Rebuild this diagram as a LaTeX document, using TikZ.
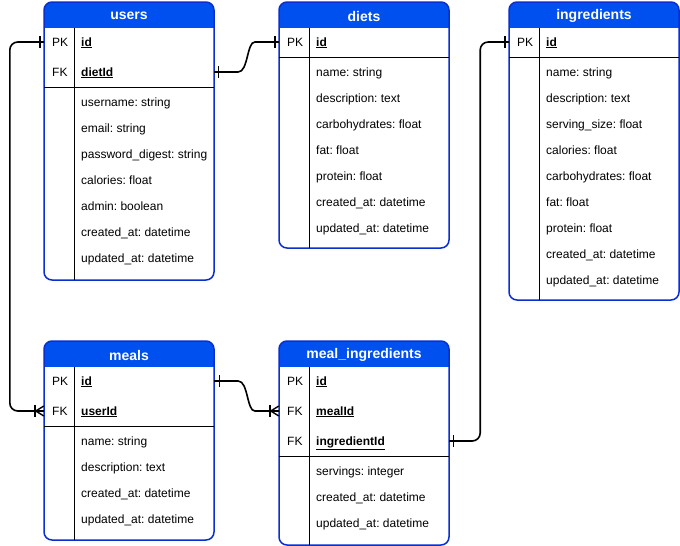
\documentclass[tikz,border=0pt]{standalone}
\usepackage{fontspec}
\setmainfont{Liberation Sans}
\usetikzlibrary{calc}
\definecolor{headblue}{HTML}{0050EF}
\definecolor{frameblue}{HTML}{0A2ED0}
\frenchspacing

\tikzset{
  tbl/.style={draw=frameblue,line width=1.5pt,rounded corners=8pt},
  title/.style={text=white,inner sep=0pt,font=\bfseries\fontsize{14}{16}\selectfont},
  cell/.style={anchor=west,inner sep=0pt,font=\fontsize{12}{14}\selectfont,text height=10pt,text depth=2pt},
  keyrow/.style={minimum width=170pt,minimum height=30pt,inner sep=0pt},
  rel/.style={line width=1.6pt},
  relend/.style={line width=1.4pt}
}

\begin{document}
\begin{tikzpicture}[x=1pt,y=-1pt]
\useasboundingbox (0,0) rectangle (680,546);

% users
\begin{scope}
\clip[rounded corners=8pt] (44,2) rectangle (214,280);
\fill[headblue] (44,2) rectangle (214,28);
\end{scope}
\draw[tbl] (44,2) rectangle (214,280);
\draw (74,28) -- (74,280);
\draw (44,87) -- (214,87);
\node[title] (users) at (129,16) {users};
\node[keyrow] (users-id) at (129,42) {};
\node[keyrow] (users-dietid) at (129,72) {};
\node[cell] (users-pk) at (52,42) {PK};
\node[cell] (users-fk) at (52,72) {FK};
\node[cell] (users-k1) at (81,42) {\textbf{\underline{id}}};
\node[cell] (users-k2) at (81,72) {\textbf{\underline{dietId}}};
\foreach \t [count=\i] in {username: string,email: string,password\_digest: string,calories: float,admin: boolean,created\_at: datetime,updated\_at: datetime}
  \node[cell] (users-a\i) at (81,76+26*\i) {\t};

% diets
\begin{scope}
\clip[rounded corners=8pt] (279,2) rectangle (449,248);
\fill[headblue] (279,2) rectangle (449,28);
\end{scope}
\draw[tbl] (279,2) rectangle (449,248);
\draw (309,28) -- (309,248);
\draw (279,57) -- (449,57);
\node[title] (diets) at (364,16) {diets};
\node[keyrow] (diets-id) at (364,42) {};
\node[cell] (diets-pk) at (287,42) {PK};
\node[cell] (diets-k1) at (316,42) {\textbf{\underline{id}}};
\foreach \t [count=\i] in {name: string,description: text,carbohydrates: float,fat: float,protein: float,created\_at: datetime,updated\_at: datetime}
  \node[cell] (diets-a\i) at (316,46+26*\i) {\t};

% ingredients
\begin{scope}
\clip[rounded corners=8pt] (509,2) rectangle (679,300);
\fill[headblue] (509,2) rectangle (679,28);
\end{scope}
\draw[tbl] (509,2) rectangle (679,300);
\draw (539,28) -- (539,300);
\draw (509,57) -- (679,57);
\node[title] (ingredients) at (594,16) {ingredients};
\node[keyrow] (ingredients-id) at (594,42) {};
\node[cell] (ingredients-pk) at (517,42) {PK};
\node[cell] (ingredients-k1) at (546,42) {\textbf{\underline{id}}};
\foreach \t [count=\i] in {name: string,description: text,serving\_size: float,calories: float,carbohydrates: float,fat: float,protein: float,created\_at: datetime,updated\_at: datetime}
  \node[cell] (ingredients-a\i) at (546,46+26*\i) {\t};

% meals
\begin{scope}
\clip[rounded corners=8pt] (44,341) rectangle (214,540);
\fill[headblue] (44,341) rectangle (214,367);
\end{scope}
\draw[tbl] (44,341) rectangle (214,540);
\draw (74,367) -- (74,540);
\draw (44,426) -- (214,426);
\node[title] (meals) at (129,355) {meals};
\node[keyrow] (meals-id) at (129,381) {};
\node[keyrow] (meals-userid) at (129,411) {};
\node[cell] (meals-pk) at (52,381) {PK};
\node[cell] (meals-fk) at (52,411) {FK};
\node[cell] (meals-k1) at (81,381) {\textbf{\underline{id}}};
\node[cell] (meals-k2) at (81,411) {\textbf{\underline{userId}}};
\foreach \t [count=\i] in {name: string,description: text,created\_at: datetime,updated\_at: datetime}
  \node[cell] (meals-a\i) at (81,415+26*\i) {\t};

% meal_ingredients
\begin{scope}
\clip[rounded corners=8pt] (279,341) rectangle (449,545);
\fill[headblue] (279,341) rectangle (449,367);
\end{scope}
\draw[tbl] (279,341) rectangle (449,545);
\draw (309,367) -- (309,545);
\draw (279,456) -- (449,456);
\node[title] (mi) at (364,355) {meal\_ingredients};
\node[keyrow] (mi-id) at (364,381) {};
\node[keyrow] (mi-mealid) at (364,411) {};
\node[keyrow] (mi-ingredientid) at (364,441) {};
\node[cell] (mi-pk) at (287,381) {PK};
\node[cell] (mi-fk1) at (287,411) {FK};
\node[cell] (mi-fk2) at (287,441) {FK};
\node[cell] (mi-k1) at (316,381) {\textbf{\underline{id}}};
\node[cell] (mi-k2) at (316,411) {\textbf{\underline{mealId}}};
\node[cell] (mi-k3) at (316,441) {\textbf{\underline{ingredientId}}};
\foreach \t [count=\i] in {servings: integer,created\_at: datetime,updated\_at: datetime}
  \node[cell] (mi-a\i) at (316,445+26*\i) {\t};

% relations
\draw[rel,rounded corners=8pt] (users-id.west) -- ++(-34,0) |- (meals-userid.west);
\draw[rel] (users-dietid.east) -- ++(24,0) .. controls +(10,0) and +(-8,0) .. ([xshift=-24pt]diets-id.west) -- (diets-id.west);
\draw[rel,rounded corners=8pt] (mi-ingredientid.east) -- ++(31,0) |- (ingredients-id.west);
\draw[rel] (meals-id.east) -- ++(24,0) .. controls +(10,0) and +(-8,0) .. ([xshift=-24pt]mi-mealid.west) -- (mi-mealid.west);

% ends
\draw[relend] ([shift={(-4,-6)}]users-id.west) -- ++(0,12);
\draw[relend] ([shift={(4,-6)}]users-dietid.east) -- ++(0,12);
\draw[relend] ([shift={(-4,-6)}]diets-id.west) -- ++(0,12);
\draw[relend] ([shift={(-4,-6)}]ingredients-id.west) -- ++(0,12);
\draw[relend] ([shift={(4,-6)}]mi-ingredientid.east) -- ++(0,12);
\draw[relend] ([shift={(5,-6)}]meals-id.east) -- ++(0,12);
\draw[relend] ([shift={(-9,-6)}]meals-userid.west) -- ++(0,12);
\draw[relend] ([shift={(0,-5)}]meals-userid.west) -- ([xshift=-8pt]meals-userid.west) -- ([shift={(0,5)}]meals-userid.west);
\draw[relend] ([shift={(-9,-6)}]mi-mealid.west) -- ++(0,12);
\draw[relend] ([shift={(0,-5)}]mi-mealid.west) -- ([xshift=-8pt]mi-mealid.west) -- ([shift={(0,5)}]mi-mealid.west);
\end{tikzpicture}
\end{document}
